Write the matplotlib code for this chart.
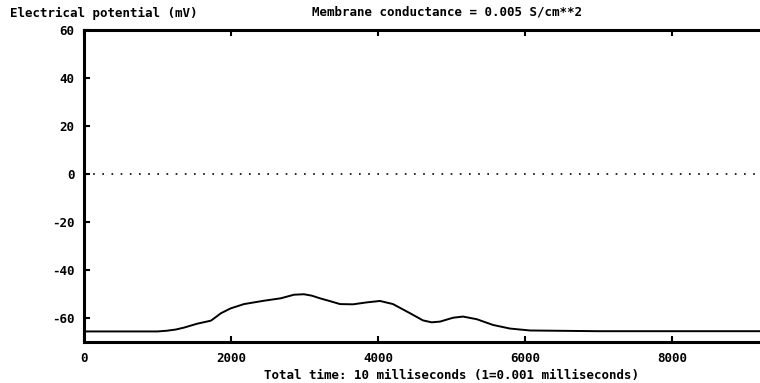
import numpy as np
import matplotlib.pyplot as plt

# membrane potential trace sampled off the simulation output
time_pts = np.array([0, 1000, 1129, 1250, 1361, 1537, 1728, 1864, 1995, 2177, 2449,
                     2676, 2857, 2993, 3100, 3211, 3350, 3483, 3660, 3846, 4027,
                     4204, 4435, 4612, 4730, 4844, 5020, 5156, 5343, 5565, 5796,
                     6068, 7000, 10000])
voltage = np.array([-65.6, -65.6, -65.3, -64.8, -64.0, -62.4, -61.1, -58.0, -56.0,
                    -54.2, -52.8, -51.8, -50.3, -50.1, -50.7, -51.8, -53.0, -54.2,
                    -54.3, -53.5, -52.9, -54.2, -58.0, -61.0, -61.8, -61.5, -59.9,
                    -59.4, -60.5, -62.9, -64.4, -65.2, -65.5, -65.5])

x_ticks = [0, 2000, 4000, 6000, 8000]
y_ticks = [-60, -40, -20, 0, 20, 40, 60]

plt.rcParams['font.family'] = 'DejaVu Sans Mono'
plt.rcParams['font.weight'] = 'bold'
plt.rcParams['font.size'] = 9
plt.rcParams['axes.unicode_minus'] = False

fig = plt.figure(figsize=(7.6, 3.83), dpi=100)
# axes runs past the right edge of the figure (x goes to 10000)
ax = fig.add_axes([84 / 760, 41 / 383, 735 / 760, 312 / 383])

ax.plot(time_pts, voltage, color='black', lw=1.4)
ax.axhline(0, color='black', lw=1.2, ls=(0, (1, 4.5)))

ax.set_xlim(0, 10000)
ax.set_ylim(-70, 60)
ax.set_xticks(x_ticks)
ax.set_yticks(y_ticks)
ax.tick_params(direction='in', length=4, width=1.5, top=True, right=True,
               labelsize=9)
ax.tick_params(axis='x', pad=7)
ax.tick_params(axis='y', pad=7)
for side in ax.spines.values():
    side.set_linewidth(2.2)

ax.set_xlabel('Total time: 10 milliseconds (1=0.001 milliseconds)',
              fontweight='bold', labelpad=3)
fig.text(10 / 760, 1 - 13 / 383, 'Electrical potential (mV)', ha='left',
         va='center', fontweight='bold')
fig.text(447 / 760, 1 - 12 / 383, 'Membrane conductance = 0.005 S/cm**2',
         ha='center', va='center', fontweight='bold')

fig.savefig('out.png', dpi=100)
